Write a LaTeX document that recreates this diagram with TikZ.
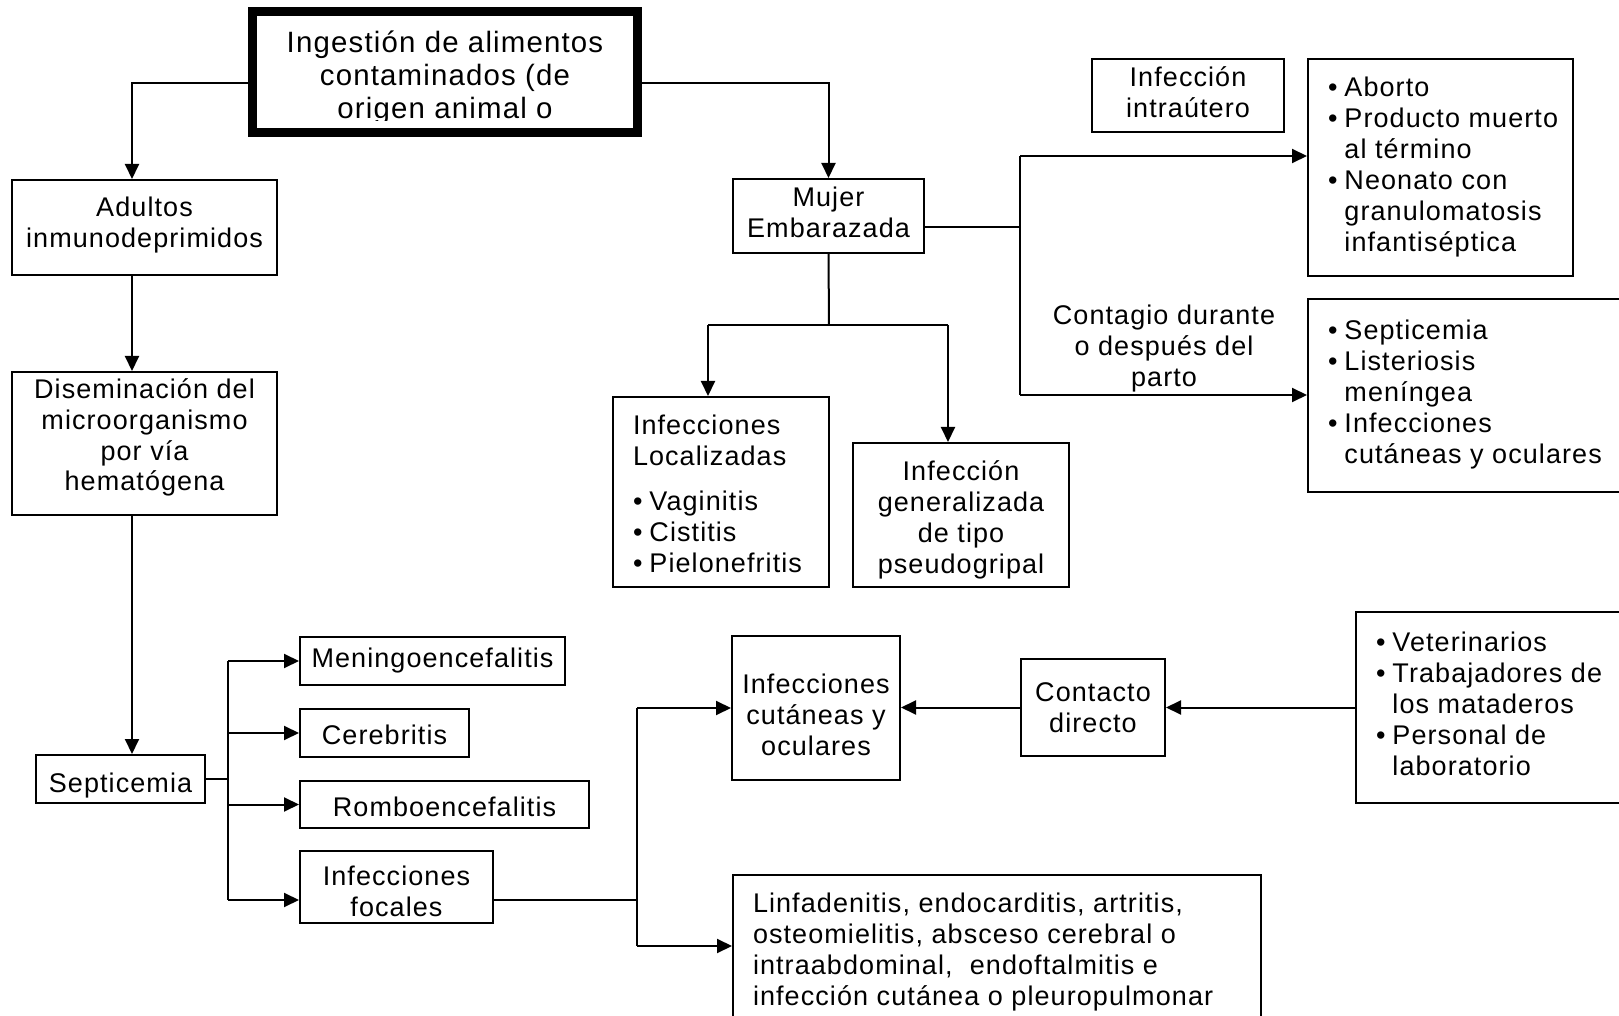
\documentclass[tikz,border=0pt]{standalone}
\usepackage{fontspec}
\setmainfont{Liberation Sans}[LetterSpace=4]
\usetikzlibrary{arrows.meta}
\newcommand{\cuerpo}{\fontsize{13.5pt}{15.5pt}\selectfont}
\newcommand{\titulo}{\fontsize{14.7pt}{16.5pt}\selectfont}
\newcommand{\izq}[2]{\makebox[#1][l]{\hspace{10pt}#2}}
\newcommand{\bajo}[2]{\raisebox{0pt}[\dimexpr\height+#1\relax][\dimexpr\depth-#1\relax]{#2}}
\newcommand{\mover}[2]{\bajo{#1}{\begin{tabular}{@{}c@{}}#2\end{tabular}}}
\tikzset{
  caja/.style={draw, rectangle, line width=1pt, inner sep=0pt, font=\cuerpo, align=center},
  wh/.style 2 args={minimum width=#1*0.5pt, minimum height=#2*0.5pt},
  linea/.style={line width=1pt},
  flecha/.style={linea, -{Triangle[length=7.5pt,width=7pt]}},
}
\begin{document}
\begin{tikzpicture}[x=0.5pt,y=-0.5pt]
  \path[use as bounding box, fill=white] (0,0) rectangle (1619,1016);

  \node[caja, line width=4.25pt, wh={385}{121}] (ingesta) at (445,72) {};
  \begin{scope}
    \clip (257,16) rectangle (633,121);
    \node[font=\titulo, align=center, inner sep=0pt] (ingestatexto) at (445,78)
      {Ingestión de alimentos\\contaminados (de\\origen animal o};
  \end{scope}

  \node[caja, wh={265}{95}] (adultos) at (144.5,227.5) {\mover{-0.6pt}{Adultos\\inmunodeprimidos}};
  \node[caja, wh={265}{143}] (disem) at (144.5,443.5)
    {\mover{-2.6pt}{Diseminación del\\microorganismo\\por vía\\hematógena}};
  \node[caja, wh={169}{48}] (septi) at (120.5,779) {\mover{3.4pt}{Septicemia}};
  \node[caja, wh={265}{48}] (meningo) at (432.5,661) {\mover{0pt}{Meningoencefalitis}};
  \node[caja, wh={169}{48}] (cerebritis) at (384.5,733) {\mover{2.8pt}{Cerebritis}};
  \node[caja, wh={289}{47}] (rombo) at (444.5,804.5) {\mover{2.8pt}{Romboencefalitis}};
  \node[caja, wh={193}{72}] (focales) at (396.5,887) {\mover{4.1pt}{Infecciones\\focales}};

  \node[caja, wh={168}{144}] (cutaneas) at (816,708) {\mover{5.1pt}{Infecciones\\cutáneas y\\oculares}};
  \node[caja, wh={144}{97}] (contacto) at (1093,707.5) {\mover{1.8pt}{Contacto\\directo}};
  \node[caja, wh={294}{191}] (veter) at (1503,707.5)
    {\izq{147pt}{\begin{tabular}{@{}l@{\hspace{3.5pt}}l@{}}
      \textbullet & Veterinarios\\
      \textbullet & Trabajadores de\\
       & los mataderos\\
      \textbullet & Personal de\\
       & laboratorio
    \end{tabular}}};
  \node[caja, wh={528}{147}] (linfa) at (997,948.5)
    {\bajo{2pt}{\izq{264pt}{\begin{tabular}{@{}l@{}}
      Linfadenitis, endocarditis, artritis,\\
      osteomielitis, absceso cerebral o\\
      intraabdominal,\ \ endoftalmitis e\\
      infección cutánea o pleuropulmonar
    \end{tabular}}}};

  \node[caja, wh={191}{74}] (mujer) at (828.5,216) {\mover{-0.3pt}{Mujer\\Embarazada}};
  \node[caja, wh={216}{190}] (loc) at (721,492)
    {\bajo{2.6pt}{\izq{108pt}{\begin{tabular}{@{}l@{\hspace{3.5pt}}l@{}}
      \multicolumn{2}{@{}l@{}}{Infecciones}\\
      \multicolumn{2}{@{}l@{}}{Localizadas}\\[7pt]
      \textbullet & Vaginitis\\
      \textbullet & Cistitis\\
      \textbullet & Pielonefritis
    \end{tabular}}}};
  \node[caja, wh={216}{144}] (gen) at (961,515)
    {\mover{2.7pt}{Infección\\generalizada\\de tipo\\pseudogripal}};
  \node[caja, wh={192}{73}] (intra) at (1188,95.5) {\mover{0pt}{Infección\\intraútero}};
  \node[caja, wh={265}{217}] (aborto) at (1440.5,167.5)
    {\izq{132.5pt}{\begin{tabular}{@{}l@{\hspace{3.5pt}}l@{}}
      \textbullet & Aborto\\
      \textbullet & Producto muerto\\
       & al término\\
      \textbullet & Neonato con\\
       & granulomatosis\\
       & infantiséptica
    \end{tabular}}};
  \node[caja, wh={342}{193}] (listeria) at (1479,395.5)
    {\izq{171pt}{\begin{tabular}{@{}l@{\hspace{3.5pt}}l@{}}
      \textbullet & Septicemia\\
      \textbullet & Listeriosis\\
       & meníngea\\
      \textbullet & Infecciones\\
       & cutáneas y oculares
    \end{tabular}}};
  \node[font=\cuerpo, align=center] (contagio) at (1164,349)
    {Contagio durante\\o después del\\parto};

  \draw[flecha] (ingesta.west |- 0,83) -| (adultos.north -| 132,0);
  \draw[flecha] (ingesta.east |- 0,83) -| (mujer.north);
  \draw[flecha] (adultos.south -| 132,0) -- (disem.north -| 132,0);
  \draw[flecha] (disem.south -| 132,0) -- (septi.north -| 132,0);

  \coordinate (s1) at (228,661);
  \coordinate (s2) at (228,900);
  \draw[linea] (septi.east) -- (septi.east -| s1);
  \draw[linea] (s1) -- (s2);
  \draw[flecha] (s1) -- (meningo.west);
  \draw[flecha] (cerebritis.west -| s1) -- (cerebritis.west);
  \draw[flecha] (rombo.west -| s1) -- (rombo.west);
  \draw[flecha] (s2) -- (s2 -| focales.west);

  \coordinate (f1) at (637,708);
  \coordinate (f2) at (637,946);
  \draw[linea] (focales.east |- s2) -- (s2 -| f1);
  \draw[linea] (f1) -- (f2);
  \draw[flecha] (f1) -- (cutaneas.west |- f1);
  \draw[flecha] (f2) -- (linfa.west |- f2);
  \draw[flecha] (veter.west |- contacto.east) -- (contacto.east);
  \draw[flecha] (contacto.west) -- (cutaneas.east |- contacto.west);

  \coordinate (m0) at (1020,227);
  \coordinate (m1) at (1020,156);
  \coordinate (m2) at (1020,395);
  \draw[linea] (mujer.east |- m0) -- (m0);
  \draw[linea] (m1) -- (m2);
  \draw[flecha] (m1) -- (aborto.west |- m1);
  \draw[flecha] (m2) -- (listeria.west |- m2);

  \coordinate (d0) at (829,325);
  \coordinate (d1) at (708,325);
  \coordinate (d2) at (948,325);
  \draw[linea] (mujer.south) -- (d0);
  \draw[linea] (d1) -- (d2);
  \draw[flecha] (d1) -- (loc.north -| d1);
  \draw[flecha] (d2) -- (gen.north -| d2);
\end{tikzpicture}
\end{document}
